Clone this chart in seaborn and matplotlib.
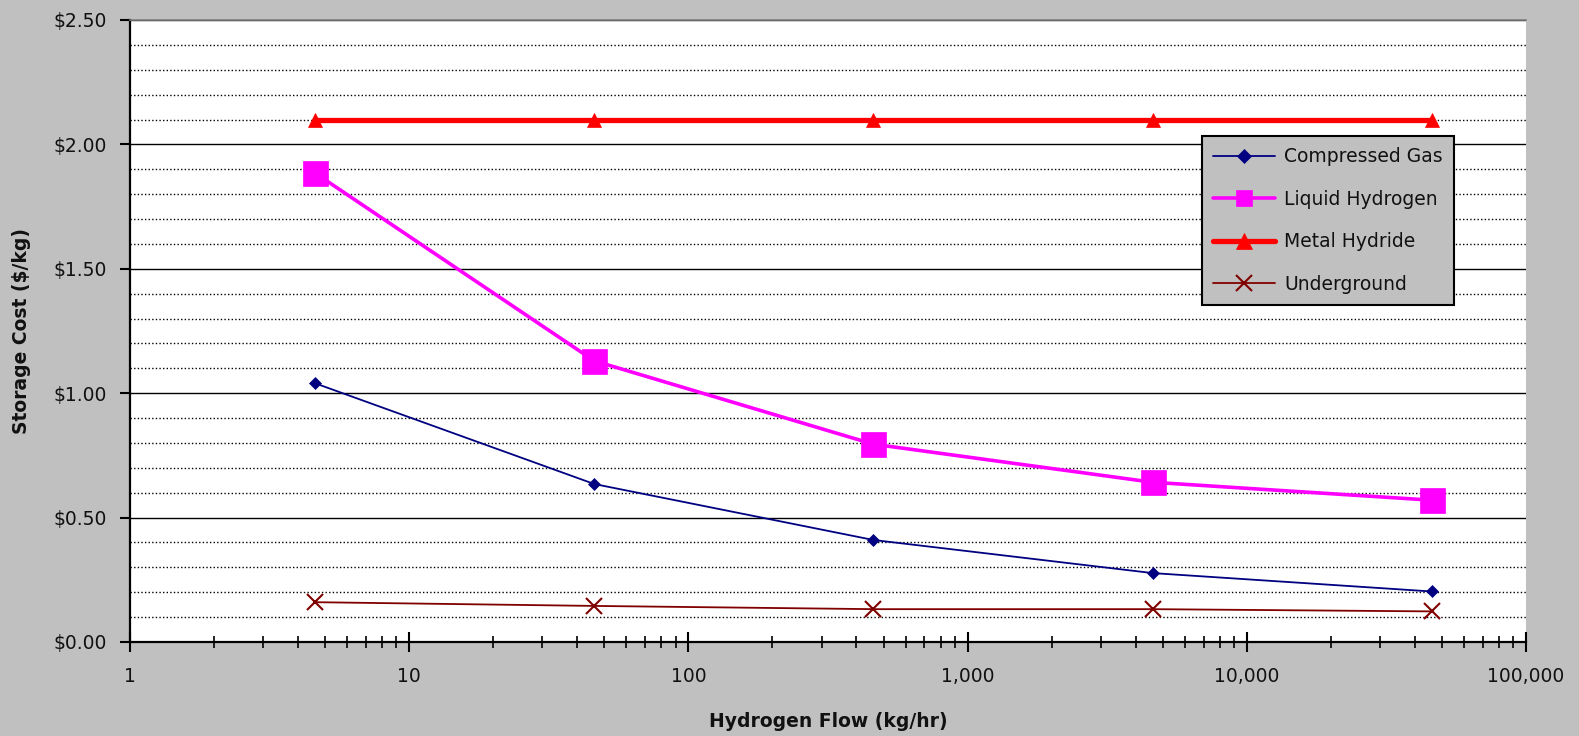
import matplotlib
matplotlib.use("Agg")
import matplotlib.pyplot as plt
import seaborn as sns
import pandas as pd
import numpy as np
from matplotlib.lines import Line2D
from matplotlib.ticker import LogLocator, NullFormatter

# ---- data ----
flow = [4.6, 46, 460, 4600, 46000]
compressed_gas = [1.04, 0.635, 0.41, 0.277, 0.203]
liquid_hydrogen = [1.885, 1.13, 0.795, 0.642, 0.57]
metal_hydride = [2.10, 2.10, 2.10, 2.10, 2.10]
underground = [0.16, 0.145, 0.132, 0.132, 0.123]

series_names = ["Compressed Gas", "Liquid Hydrogen", "Metal Hydride", "Underground"]
series_values = [compressed_gas, liquid_hydrogen, metal_hydride, underground]
colors = ["#000080", "#ff00ff", "#ff0000", "#800000"]
markers = ["D", "s", "^", "x"]
linewidths = [1.3, 2.6, 3.8, 1.3]
markersizes = [6.6, 18, 10, 11]
legend_msizes = [7.5, 11.5, 11, 11]

yticks = [0.0, 0.5, 1.0, 1.5, 2.0, 2.5]
ytick_labels = ["$0.00", "$0.50", "$1.00", "$1.50", "$2.00", "$2.50"]
xticks = [1, 10, 100, 1000, 10000, 100000]
xtick_labels = ["1", "10", "100", "1,000", "10,000", "100,000"]

df = pd.DataFrame({
    "flow": flow * len(series_names),
    "cost": sum(series_values, []),
    "series": sum([[n] * len(flow) for n in series_names], []),
})

sns.set_style("white")
plt.rcParams["font.family"] = ["DejaVu Sans"]

bg = "#c0c0c0"
W, H = 1579, 736
fs = 13.5
fig = plt.figure(figsize=(W / 100, H / 100), dpi=100, facecolor=bg)
ax = fig.add_axes([130 / W, 1 - 642 / H, (1526 - 130) / W, (642 - 20) / H])
ax.set_facecolor("white")

for name, c, m, lw, ms in zip(series_names, colors, markers, linewidths, markersizes):
    sub = df[df["series"] == name]
    sns.lineplot(data=sub, x="flow", y="cost", ax=ax, color=c, marker=m,
                 linewidth=lw, markersize=ms, markeredgecolor=c,
                 markeredgewidth=1.5 if m == "x" else 0.5, legend=False,
                 errorbar=None, zorder=3)

ax.set_xscale("log")
ax.set_xlim(1, 100000)
ax.set_ylim(0, 2.5)

ax.set_yticks(yticks)
ax.set_yticklabels(ytick_labels)
ax.set_yticks(np.arange(0.1, 2.5, 0.1), minor=True)
ax.set_xticks(xticks)
ax.set_xticklabels(xtick_labels)
ax.xaxis.set_minor_locator(LogLocator(base=10, subs=np.arange(2, 10)))
ax.xaxis.set_minor_formatter(NullFormatter())

ax.grid(False)
ax.yaxis.grid(True, which="major", color="black", linewidth=1.0, linestyle="-", zorder=1)
ax.yaxis.grid(True, which="minor", color="black", linewidth=1.0, linestyle=(0, (1, 1.6)), zorder=1)
ax.set_axisbelow(True)

for s in ["left", "bottom"]:
    ax.spines[s].set_color("black")
    ax.spines[s].set_linewidth(1.6)
ax.spines["top"].set_color("#808080")
ax.spines["top"].set_linewidth(1.2)
ax.spines["right"].set_visible(False)

ax.tick_params(axis="y", which="major", direction="out", length=7, width=1.5,
               color="black", labelsize=fs, pad=10, left=True, labelcolor="#111111")
ax.tick_params(axis="y", which="minor", length=0)
ax.tick_params(axis="x", which="major", direction="inout", length=14, width=1.5,
               color="black", labelsize=fs, pad=11, bottom=True, labelcolor="#111111")
ax.tick_params(axis="x", which="minor", direction="inout", length=9, width=1.2,
               color="black", bottom=True)

ax.set_xlabel("Hydrogen Flow (kg/hr)", fontsize=fs, fontweight="bold", labelpad=19,
              color="#111111")
ax.set_ylabel("Storage Cost ($/kg)", fontsize=fs, fontweight="bold", labelpad=16,
              color="#111111")

handles = [Line2D([0], [0], color=c, marker=m, linewidth=lw, markersize=ms,
                  markeredgecolor=c, markeredgewidth=1.5 if m == "x" else 0.5)
           for c, m, lw, ms in zip(colors, markers, linewidths, legend_msizes)]
leg = ax.legend(handles, series_names, loc="upper left",
                bbox_to_anchor=((1202 - 130) / (1526 - 130), (642 - 136) / (642 - 20)),
                frameon=True, fancybox=False, facecolor=bg, edgecolor="black",
                framealpha=1, fontsize=fs, handlelength=3.3, labelspacing=1.25,
                borderpad=0.6, handletextpad=0.5, borderaxespad=0)
leg.get_frame().set_linewidth(1.5)
for t in leg.get_texts():
    t.set_color("#111111")

fig.savefig("out.png", dpi=100, facecolor=bg)
